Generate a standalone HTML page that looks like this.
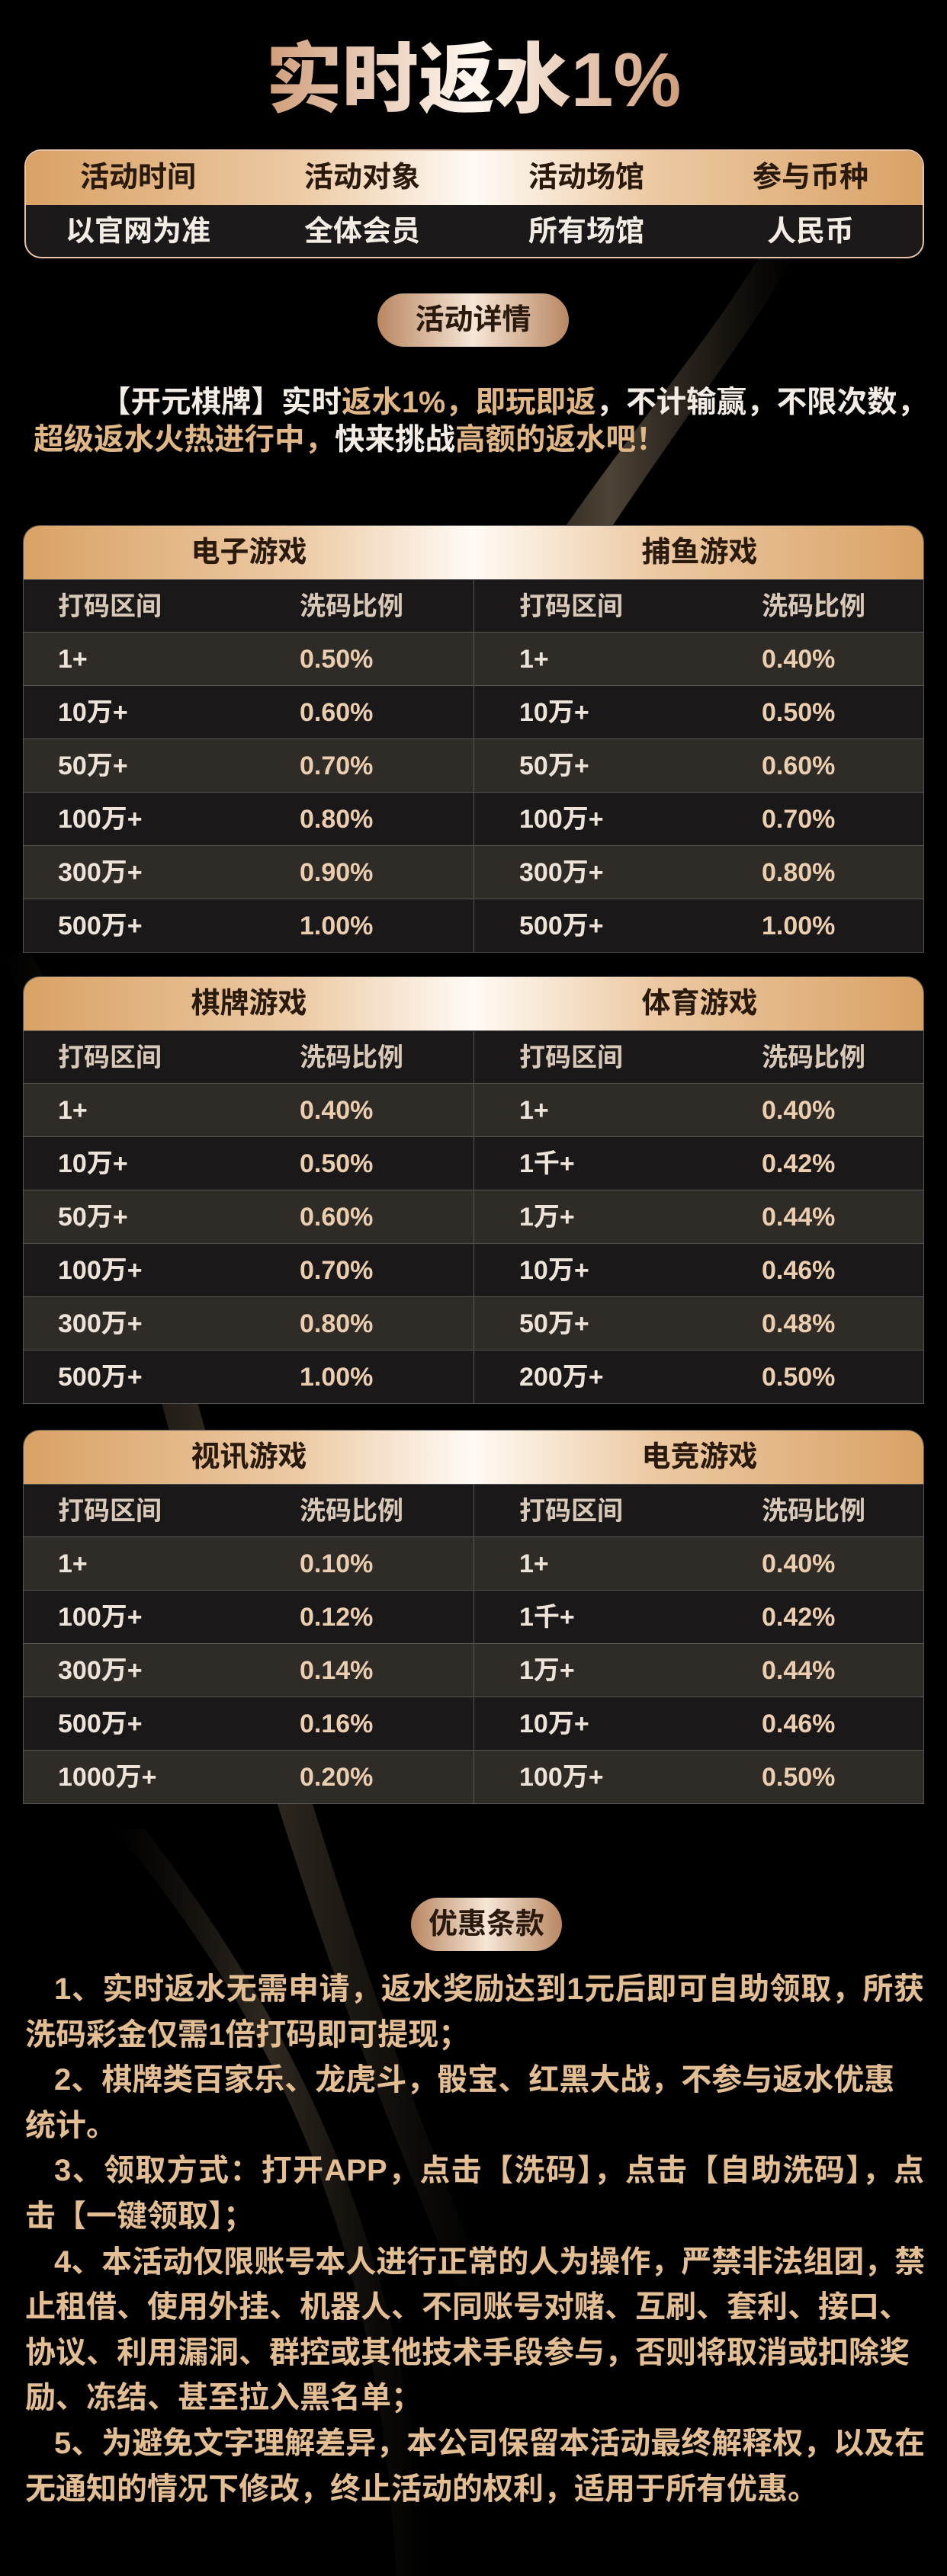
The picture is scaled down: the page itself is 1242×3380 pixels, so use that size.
<!DOCTYPE html>
<html><head><meta charset="utf-8">
<style>
*{margin:0;padding:0;box-sizing:border-box}
body{width:1242px;height:3380px;background:#000;overflow:hidden;position:relative;font-family:"Liberation Sans","Noto Sans CJK SC",sans-serif;font-weight:700}
.abs{position:absolute}
.gold{background:linear-gradient(90deg,#d9a265 0%,#ecc9a3 30%,#fffaf4 50%,#ecc9a3 70%,#d9a265 100%)}
.title{left:0;width:1242px;top:50px;text-align:center;font-size:100px;line-height:110px;font-weight:900;
background:linear-gradient(90deg,#c9916a 25%,#fff7ef 50%,#c9916a 75%);-webkit-background-clip:text;background-clip:text;color:transparent}
.info{left:32px;top:196px;width:1180px;height:143px;border-radius:22px;overflow:hidden;border:2px solid #e8c4a8;background:#1b191a}
.info .row{position:absolute;left:0;width:100%;height:71px;display:flex}
.info .row div{flex:1;text-align:center;font-size:38px;line-height:71px}
.btn{border-radius:36px;text-align:center;font-size:38px;color:#2a1a0e;background:linear-gradient(90deg,#b98762,#f6e6d6 50%,#b98762)}
.p{font-size:39.5px;line-height:49px}
.w{color:#f3ece4}.g{color:#e0b784}
.tbl{left:30px;width:1182px;border-radius:22px 22px 0 0;overflow:hidden;border:1px solid #555}
.band{height:70px;position:relative}
.band span{position:absolute;top:0;line-height:70px;font-size:38px;color:#2a1a0e;width:591px;text-align:center}
.r{height:70px;position:relative;border-top:1px solid #555;font-size:34px}
.r:after{content:"";position:absolute;left:590px;top:0;bottom:0;width:1px;background:#555}
.r span{position:absolute;top:0;line-height:70px}
.h{background:#1a1819;color:#d8c8b8;height:69px}
.o{background:#2f2c28}.e{background:#1a1819}
.c1{left:45px;color:#eee3d8}.c2{left:362px;color:#ebcdb0}.c3{left:650px;color:#eee3d8}.c4{left:968px;color:#ebcdb0}
.h .c1,.h .c2,.h .c3,.h .c4{color:#d8c8b8}
.terms{left:33px;width:1179px;top:2581px;font-size:40px;line-height:59.6px;color:#e3be93}
.terms div{white-space:nowrap}
.j{text-align:justify;text-align-last:justify}
</style></head><body>
<svg class="abs" style="left:0;top:0" width="1242" height="3380">
<defs><linearGradient id="sw" x1="0" y1="0" x2="1" y2="0"><stop offset="0" stop-color="#6b5a45" stop-opacity="0"/><stop offset=".5" stop-color="#8d7a62" stop-opacity=".55"/><stop offset="1" stop-color="#6b5a45" stop-opacity="0"/></linearGradient></defs>
<path d="M1000 330 C900 500 700 700 560 1000 L620 1000 C760 720 960 480 1040 340Z" fill="url(#sw)"/>
<path d="M0 1250 C200 1600 250 2200 600 3000 L640 3000 C300 2200 250 1600 40 1250Z" fill="url(#sw)" opacity=".7"/>
<path d="M150 2400 C400 2700 500 3000 520 3380 L560 3380 C540 3000 420 2700 190 2400Z" fill="url(#sw)" opacity=".6"/>
</svg>
<div class="abs title">实时返水1%</div>
<div class="abs info">
 <div class="row gold" style="top:0;color:#2a1a0e"><div>活动时间</div><div>活动对象</div><div>活动场馆</div><div>参与币种</div></div>
 <div class="row" style="top:71px;color:#f3ece4"><div>以官网为准</div><div>全体会员</div><div>所有场馆</div><div>人民币</div></div>
</div>
<div class="abs btn" style="left:495px;top:385px;width:251px;height:70px;line-height:70px">活动详情</div>
<div class="abs p" style="left:132px;top:504px;white-space:nowrap"><span class="w">【开元棋牌】实时</span><span class="g">返水1%，即玩即返</span><span class="w">，不计输赢，不限次数，</span></div>
<div class="abs p" style="left:44px;top:553px;white-space:nowrap"><span class="g">超级返水火热进行中，</span><span class="w">快来挑战</span><span class="g">高额的返水吧！</span></div>

<div class="abs tbl" style="top:689px">
 <div class="band gold"><span style="left:0">电子游戏</span><span style="left:591px">捕鱼游戏</span></div>
 <div class="r h"><span class="c1">打码区间</span><span class="c2">洗码比例</span><span class="c3">打码区间</span><span class="c4">洗码比例</span></div>
 <div class="r o"><span class="c1">1+</span><span class="c2">0.50%</span><span class="c3">1+</span><span class="c4">0.40%</span></div>
 <div class="r e"><span class="c1">10万+</span><span class="c2">0.60%</span><span class="c3">10万+</span><span class="c4">0.50%</span></div>
 <div class="r o"><span class="c1">50万+</span><span class="c2">0.70%</span><span class="c3">50万+</span><span class="c4">0.60%</span></div>
 <div class="r e"><span class="c1">100万+</span><span class="c2">0.80%</span><span class="c3">100万+</span><span class="c4">0.70%</span></div>
 <div class="r o"><span class="c1">300万+</span><span class="c2">0.90%</span><span class="c3">300万+</span><span class="c4">0.80%</span></div>
 <div class="r e"><span class="c1">500万+</span><span class="c2">1.00%</span><span class="c3">500万+</span><span class="c4">1.00%</span></div>
</div>

<div class="abs tbl" style="top:1281px">
 <div class="band gold"><span style="left:0">棋牌游戏</span><span style="left:591px">体育游戏</span></div>
 <div class="r h"><span class="c1">打码区间</span><span class="c2">洗码比例</span><span class="c3">打码区间</span><span class="c4">洗码比例</span></div>
 <div class="r o"><span class="c1">1+</span><span class="c2">0.40%</span><span class="c3">1+</span><span class="c4">0.40%</span></div>
 <div class="r e"><span class="c1">10万+</span><span class="c2">0.50%</span><span class="c3">1千+</span><span class="c4">0.42%</span></div>
 <div class="r o"><span class="c1">50万+</span><span class="c2">0.60%</span><span class="c3">1万+</span><span class="c4">0.44%</span></div>
 <div class="r e"><span class="c1">100万+</span><span class="c2">0.70%</span><span class="c3">10万+</span><span class="c4">0.46%</span></div>
 <div class="r o"><span class="c1">300万+</span><span class="c2">0.80%</span><span class="c3">50万+</span><span class="c4">0.48%</span></div>
 <div class="r e"><span class="c1">500万+</span><span class="c2">1.00%</span><span class="c3">200万+</span><span class="c4">0.50%</span></div>
</div>

<div class="abs tbl" style="top:1876px">
 <div class="band gold"><span style="left:0">视讯游戏</span><span style="left:591px">电竞游戏</span></div>
 <div class="r h"><span class="c1">打码区间</span><span class="c2">洗码比例</span><span class="c3">打码区间</span><span class="c4">洗码比例</span></div>
 <div class="r o"><span class="c1">1+</span><span class="c2">0.10%</span><span class="c3">1+</span><span class="c4">0.40%</span></div>
 <div class="r e"><span class="c1">100万+</span><span class="c2">0.12%</span><span class="c3">1千+</span><span class="c4">0.42%</span></div>
 <div class="r o"><span class="c1">300万+</span><span class="c2">0.14%</span><span class="c3">1万+</span><span class="c4">0.44%</span></div>
 <div class="r e"><span class="c1">500万+</span><span class="c2">0.16%</span><span class="c3">10万+</span><span class="c4">0.46%</span></div>
 <div class="r o"><span class="c1">1000万+</span><span class="c2">0.20%</span><span class="c3">100万+</span><span class="c4">0.50%</span></div>
</div>

<div class="abs btn" style="left:539px;top:2490px;width:198px;height:70px;line-height:70px">优惠条款</div>

<div class="abs terms">
 <div class="j" style="padding-left:38px">1、实时返水无需申请，返水奖励达到1元后即可自助领取，所获</div>
 <div>洗码彩金仅需1倍打码即可提现；</div>
 <div style="padding-left:38px">2、棋牌类百家乐、龙虎斗，骰宝、红黑大战，不参与返水优惠</div>
 <div>统计。</div>
 <div class="j" style="padding-left:38px">3、领取方式：打开APP，点击【洗码】，点击【自助洗码】，点</div>
 <div>击【一键领取】；</div>
 <div class="j" style="padding-left:38px">4、本活动仅限账号本人进行正常的人为操作，严禁非法组团，禁</div>
 <div>止租借、使用外挂、机器人、不同账号对赌、互刷、套利、接口、</div>
 <div>协议、利用漏洞、群控或其他技术手段参与，否则将取消或扣除奖</div>
 <div>励、冻结、甚至拉入黑名单；</div>
 <div class="j" style="padding-left:38px">5、为避免文字理解差异，本公司保留本活动最终解释权，以及在</div>
 <div>无通知的情况下修改，终止活动的权利，适用于所有优惠。</div>
</div>
</body></html>
